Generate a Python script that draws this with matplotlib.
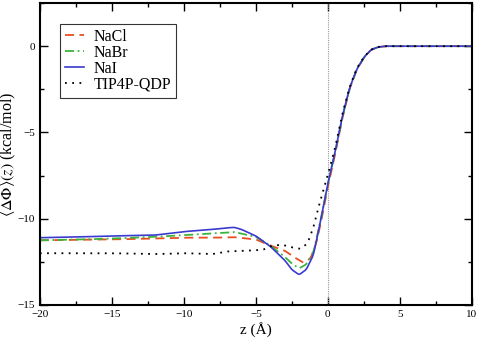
import matplotlib
matplotlib.use('Agg')
import matplotlib.pyplot as plt
from matplotlib.ticker import MultipleLocator
import numpy as np

plt.rcParams['font.family'] = ['Liberation Serif', 'DejaVu Serif']
plt.rcParams['mathtext.fontset'] = 'stix'

# z (Angstrom) and potential (kcal/mol)
z_nai = [-20, -17, -15, -12, -10, -8, -7, -6.5, -6, -5, -4, -3, -2.5, -2, -1.5, -1, -0.5,
         0, 0.5, 1, 1.5, 2, 2.5, 3, 3.5, 4, 5, 10]
nai = [-11.1, -11.05, -11.0, -10.95, -10.75, -10.62, -10.53, -10.5, -10.62, -11.0, -11.6, -12.4,
       -12.95, -13.25, -12.95, -12.1, -10.1, -7.95, -6.15, -4.1, -2.45, -1.35, -0.65, -0.2, -0.05, 0, 0, 0]

z_nacl = [-20, -17, -15, -12, -10, -8, -6.5, -5, -4, -3, -2.4, -1.7, -1.2, -0.8, -0.5,
          0, 0.5, 1, 1.5, 2, 2.5, 3, 3.5, 4, 5, 10]
nacl = [-11.25, -11.22, -11.2, -11.15, -11.1, -11.1, -11.07, -11.2, -11.55, -11.85, -12.2, -12.55,
        -12.3, -11.4, -10.3, -8.15, -6.3, -4.2, -2.5, -1.38, -0.67, -0.22, -0.05, 0, 0, 0]

z_nabr = [-20, -17, -15, -12, -10, -8, -6.5, -5, -4, -3, -2.5, -2, -1.5, -1, -0.5,
          0, 0.5, 1, 1.5, 2, 2.5, 3, 3.5, 4, 5, 10]
nabr = [-11.25, -11.2, -11.15, -11.05, -10.95, -10.85, -10.77, -11.05, -11.55, -12.2, -12.6, -12.88,
        -12.65, -11.95, -10.1, -8.0, -6.2, -4.15, -2.47, -1.36, -0.66, -0.21, -0.05, 0, 0, 0]

z_tip = [-20, -17, -15, -12, -10, -8, -7, -5.5, -4.5, -4, -3.2, -2.5, -1.85, -1.4, -1, -0.67,
         -0.33, 0.15, 0.5, 1, 1.5, 2, 2.5, 3, 3.5, 4, 5, 10]
tip = [-12.0, -12.0, -12.0, -12.05, -12.0, -12.05, -11.9, -11.85, -11.8, -11.6, -11.5, -11.66,
       -11.75, -11.4, -10.5, -9.4, -8.4, -7.0, -5.9, -3.95, -2.4, -1.3, -0.63, -0.2, -0.04, 0, 0, 0]


def smooth(zs, vs):
    # dense curve through read points, lightly smoothed
    zz = np.linspace(zs[0], zs[-1], 1200)
    out = np.interp(zz, zs, vs)
    k = np.ones(9) / 9
    pad = np.concatenate([np.full(4, out[0]), out, np.full(4, out[-1])])
    return zz, np.convolve(pad, k, mode='valid')


fig = plt.figure(figsize=(4.8, 3.4), dpi=100)
ax = fig.add_axes([0.083, 0.103, 0.9, 0.888])

ax.axvline(0, color='#999999', lw=0.8, ls=(0, (1, 1)))

zz, yy = smooth(z_nacl, nacl)
ax.plot(zz, yy, color='#e8501e', lw=1.3, ls=(0, (5, 3)), label='NaCl')
zz, yy = smooth(z_nabr, nabr)
ax.plot(zz, yy, color='#3cb43c', lw=1.3, ls=(0, (5, 2, 1, 2)), label='NaBr')
zz, yy = smooth(z_nai, nai)
ax.plot(zz, yy, color='#3a3ad0', lw=1.2, label='NaI')
zz, yy = smooth(z_tip, tip)
ax.plot(zz, yy, color='black', lw=1.3, ls=(0, (1, 3)), label='TIP4P-QDP')

ax.set_xlim(-20, 10)
ax.set_ylim(-15, 2.5)
ax.xaxis.set_major_locator(MultipleLocator(5))
ax.xaxis.set_minor_locator(MultipleLocator(2.5))
ax.yaxis.set_major_locator(MultipleLocator(5))
ax.yaxis.set_minor_locator(MultipleLocator(2.5))
ax.tick_params(which='both', direction='in', top=True, right=True, labelsize=8, width=1)
ax.tick_params(which='major', length=6)
ax.tick_params(which='minor', length=3)
for s in ax.spines.values():
    s.set_linewidth(1.5)

ax.set_xlabel('z (Å)', fontsize=11, labelpad=2)
ax.set_ylabel(r'$\langle\Delta\Phi\rangle(z)$ (kcal/mol)', fontsize=11.5)
ax.yaxis.set_label_coords(-0.05, 0.5)

leg = ax.legend(loc='upper left', bbox_to_anchor=(0.046, 0.93), fontsize=11.5, frameon=True,
                fancybox=False, edgecolor='black', handlelength=1.25, borderpad=0.3,
                labelspacing=0.0, handletextpad=0.55, borderaxespad=0)
leg.get_frame().set_linewidth(0.8)

fig.savefig('out.png', dpi=100)
